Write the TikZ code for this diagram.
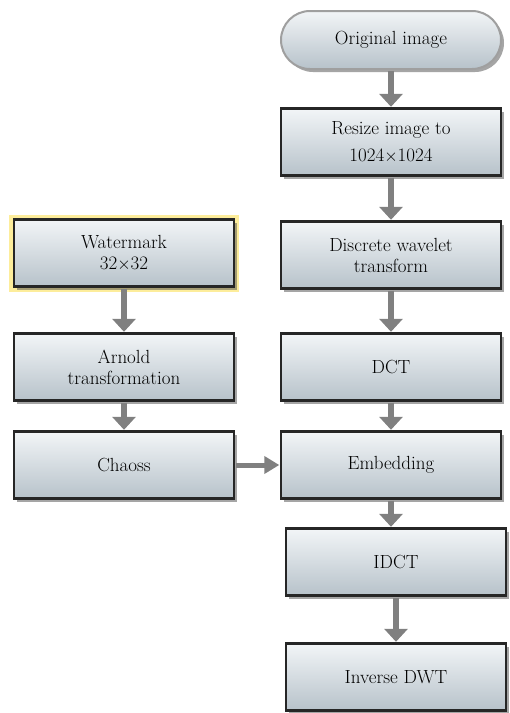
\documentclass[tikz,border=0pt]{standalone}
\usetikzlibrary{shadows,arrows.meta,shapes.misc}
\begin{document}
\begin{tikzpicture}[x=1pt,y=-1pt,
  box/.style={draw=black!85, line width=2.4pt, top color=boxtop, bottom color=boxbot,
    minimum width=220pt, minimum height=67pt, align=center,
    font=\fontsize{19}{21}\selectfont, text=black,
    drop shadow={shadow xshift=3pt, shadow yshift=-3pt, opacity=0.5, fill=black!70}},
  term/.style={box, rounded corners=29pt, minimum height=58pt, draw=gray!75, line width=2pt},
  arr/.style={draw=arrgray, line width=6.5pt, -{Triangle[width=23pt,length=13pt]}, shorten <=1pt, shorten >=0.5pt},
  harr/.style={arr, line width=5pt, -{Triangle[width=17pt,length=15pt]}}
]
\definecolor{boxtop}{HTML}{F2F5F7}
\definecolor{boxbot}{HTML}{B7C2CA}
\definecolor{arrgray}{HTML}{808080}
\useasboundingbox (0,0) rectangle (510,713);
\fill[white] (0,0) rectangle (510,713);

\node[term] (orig) at (391,40) {Original image};
\node[box, font=\fontsize{19}{27}\selectfont] (resize) at (391,142) {Resize image to\\1024$\times$1024};
\node[box] (dwt) at (391,255) {Discrete wavelet\\transform};
\node[box] (dct) at (391,367) {DCT};
\node[box] (emb) at (391,465) {Embedding};
\node[box] (idct) at (396,562) {IDCT};
\node[box] (idwt) at (396,677) {Inverse DWT};

\draw[yellow!70!orange, line width=8pt, opacity=0.4] (13,219) rectangle (235,288);
\node[box] (wm) at (124,253) {Watermark\\32$\times$32};
\node[box] (arnold) at (124,367) {Arnold\\transformation};
\node[box] (chaos) at (124,465) {Chaoss};

\draw[arr] (orig.south) -- (resize.north);
\draw[arr] (resize.south) -- (dwt.north);
\draw[arr] (dwt.south) -- (dct.north);
\draw[arr] (dct.south) -- (emb.north);
\draw[arr] (emb.south) -- (emb.south |- idct.north);
\draw[arr] (idct.south) -- (idwt.north);
\draw[arr] (wm.south) -- (arnold.north);
\draw[arr] (arnold.south) -- (chaos.north);
\draw[harr] (chaos.east) -- (emb.west);
\end{tikzpicture}
\end{document}
